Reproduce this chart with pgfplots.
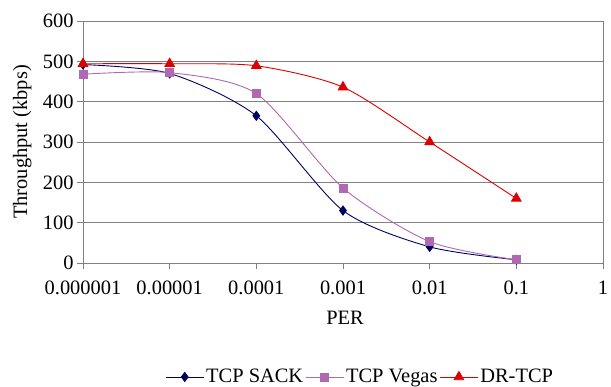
\documentclass[border=0pt]{standalone}
\usepackage{fontspec}
\setmainfont{Liberation Serif}
\usepackage{pgfplots}
\pgfplotsset{compat=1.18}
\definecolor{sack}{RGB}{0,0,96}
\definecolor{vegas}{RGB}{176,104,176}
\definecolor{drtcp}{RGB}{220,0,0}
\definecolor{gridc}{RGB}{128,128,128}
\begin{document}
\begin{tikzpicture}
\useasboundingbox (-83bp,-124bp) rectangle (528bp,263bp);
\begin{axis}[
  at={(0,0)}, anchor=south west,
  scale only axis, width=520bp, height=242bp,
  xmode=log, xmin=1e-6, xmax=1, ymin=0, ymax=600,
  xtick={1e-6,1e-5,1e-4,1e-3,1e-2,1e-1,1},
  xticklabels={0.000001,0.00001,0.0001,0.001,0.01,0.1,1},
  ytick={0,100,200,300,400,500,600},
  yticklabels={0,100,200,300,400,500,600},
  xminorticks=false,
  xtick pos=bottom, ytick pos=left,
  tick align=outside, major tick length=6bp,
  tick style={gridc, line width=0.8pt},
  axis line style={gridc, line width=0.8pt},
  ymajorgrids, major grid style={gridc, line width=0.8pt},
  ticklabel style={font=\fontsize{20.5}{23}\selectfont},
  label style={font=\fontsize{20.5}{23}\selectfont},
  xticklabel style={yshift=-8bp},
  xlabel={PER},
  xlabel style={at={(axis description cs:0.504,-0.227)}, anchor=center},
  ylabel={Throughput (kbps)},
  ylabel style={at={(axis description cs:-0.117,0.5)}, anchor=center},
  legend columns=3,
  legend style={draw=none, fill=none, at={(axis description cs:0.533,-0.471)}, anchor=center,
    font=\fontsize{20.5}{23}\selectfont, inner sep=0pt,
    /tikz/every even column/.append style={column sep=0pt},
    nodes={inner xsep=2bp}},
  legend image code/.code={\draw[mark repeat=2,mark phase=2] plot coordinates {(0bp,0bp) (19bp,0bp) (38bp,0bp)};},
]
\addplot[sack, line width=0.9pt, smooth, tension=0.45, mark=diamond*, mark size=4.5bp, mark options={solid,fill=sack}]
  coordinates {(1e-6,492) (1e-5,470) (1e-4,365) (1e-3,130) (1e-2,40) (1e-1,8)};
\addlegendentry{TCP SACK}
\addplot[vegas, line width=0.9pt, smooth, tension=0.45, mark=square*, mark size=4bp, mark options={solid,fill=vegas}]
  coordinates {(1e-6,468) (1e-5,472) (1e-4,420) (1e-3,186) (1e-2,53) (1e-1,8)};
\addlegendentry{TCP Vegas}
\addplot[drtcp, line width=0.9pt, smooth, tension=0.45, mark=triangle*, mark size=5.5bp, mark options={solid,fill=drtcp}]
  coordinates {(1e-6,494) (1e-5,494) (1e-4,489) (1e-3,436) (1e-2,300) (1e-1,160)};
\addlegendentry{DR-TCP}
\end{axis}
\end{tikzpicture}
\end{document}
